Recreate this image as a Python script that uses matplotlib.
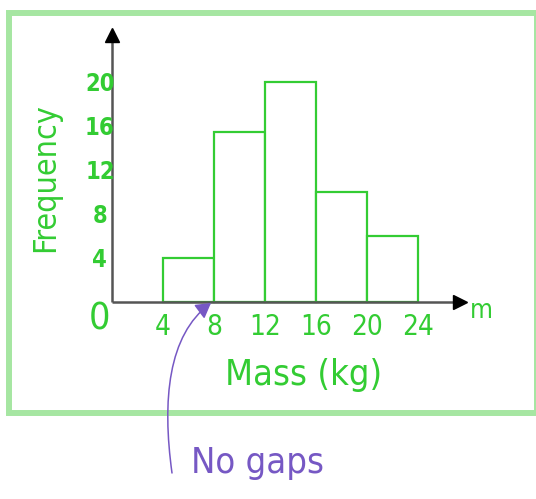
import matplotlib
matplotlib.use("Agg")
import matplotlib.pyplot as plt
from matplotlib.patches import Rectangle, FancyArrowPatch
from matplotlib.path import Path

# ---- data ----
bin_edges = [4, 8, 12, 16, 20, 24]
frequencies = [4, 15.5, 20, 10, 6]
x_tick_labels = ["4", "8", "12", "16", "20", "24"]
y_ticks = [4, 8, 12, 16, 20]
y_tick_labels = ["4", "8", "12", "16", "20"]
x_label = "Mass (kg)"
y_label = "Frequency"
unit_label = "m"
note = "No gaps"

GREEN = "#33cc33"
BORDER = "#a6e6a2"
PURPLE = "#7658c4"
FONT = ["DejaVu Sans"]
STRETCH = "condensed"

W, H = 536, 499
fig = plt.figure(figsize=(W / 100, H / 100), dpi=100)
ax = fig.add_axes([0, 0, 1, 1])
# pixel mapping: x=0 at 112px, 12.75 px/unit; y=0 at 302px from top, 11 px/unit
ax.set_xlim(-112 / 12.75, (W - 112) / 12.75)
ax.set_ylim((302 - H) / 11, 302 / 11)
ax.axis("off")

# bars
widths = [b - a for a, b in zip(bin_edges[:-1], bin_edges[1:])]
ax.bar(bin_edges[:-1], frequencies, width=widths, align="edge",
       facecolor="white", edgecolor=GREEN, linewidth=1.6, zorder=2)

# axes with arrows
ax.plot([0, 27.0], [0, 0], color="#555555", lw=1.8, zorder=3, solid_capstyle="butt")
ax.plot([0, 0], [0, 24.0], color="#555555", lw=1.8, zorder=3, solid_capstyle="butt")
ax.plot([27.3], [0], marker=">", color="black", markersize=10, zorder=4)
ax.plot([0], [24.3], marker="^", color="black", markersize=10, zorder=4)

txt = dict(family=FONT, fontstretch=STRETCH, ha="center", va="center")

# tick labels
for xv, lab in zip(bin_edges, x_tick_labels):
    ax.text(xv, -2.3, lab, color=GREEN, fontsize=20, **txt)
ax.text(-0.95, -1.6, "0", color=GREEN, fontsize=27, **txt)
for yv, lab in zip(y_ticks, y_tick_labels):
    ax.text(-0.95, yv - 0.2, lab, color=GREEN, fontsize=17, fontweight="bold", **txt)

# axis labels
ax.text(15.0, -6.6, x_label, color=GREEN, fontsize=26, **txt)
ax.text(-5.2, 11.3, y_label, color=GREEN, fontsize=23, rotation=90, **txt)
ax.text(29.0, -0.8, unit_label, color=GREEN, fontsize=19, **txt)

# note text
ax.text(11.4, -14.6, note, color=PURPLE, fontsize=26, **txt)

# border
def fx(px):
    return px / W

def fy(py):
    return 1 - py / H

fig.patches.append(Rectangle((fx(9), fy(413)), fx(537) - fx(9), fy(13) - fy(413),
                             transform=fig.transFigure, fill=False,
                             edgecolor=BORDER, linewidth=4.3, zorder=1))

# curved annotation arrow
verts = [(fx(172), fy(473)), (fx(162), fy(400)), (fx(168), fy(335)), (fx(211), fy(303))]
codes = [Path.MOVETO, Path.CURVE4, Path.CURVE4, Path.CURVE4]
arrow = FancyArrowPatch(path=Path(verts, codes), arrowstyle="-|>,head_length=6,head_width=3.5",
                        color=PURPLE, linewidth=1.1, transform=fig.transFigure,
                        mutation_scale=1.5, zorder=5)
fig.patches.append(arrow)

fig.savefig("out.png", dpi=100, facecolor="white")
